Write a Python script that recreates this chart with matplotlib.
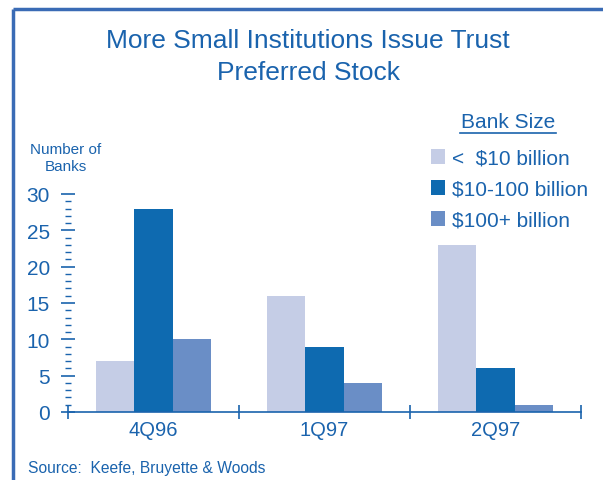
import matplotlib.pyplot as plt
import numpy as np
from matplotlib.lines import Line2D

quarters = ['4Q96', '1Q97', '2Q97']
small = [7, 16, 23]
mid = [28, 9, 6]
large = [10, 4, 1]
series_labels = ['<  $10 billion', '$10-100 billion', '$100+ billion']
colors = ['#c5cde6', '#0e6ab0', '#6a8ec6']
txt = '#1a63ad'

plt.rcParams['font.family'] = ['Liberation Sans', 'DejaVu Sans']

fig = plt.figure(figsize=(6.03, 4.81), dpi=100)
ax = fig.add_axes([0.1128, 0.1414, 0.8507, 0.4532])

x = np.arange(len(quarters))
w = 0.225
for i, (vals, lab) in enumerate(zip([small, mid, large], series_labels)):
    ax.bar(x + (i - 1) * w, vals, w, color=colors[i], label=lab, zorder=2)

ax.set_xlim(-0.5, 2.5)
ax.set_ylim(0, 30)
for s in ['top', 'right', 'left']:
    ax.spines[s].set_visible(False)
ax.spines['bottom'].set_color(txt)
ax.spines['bottom'].set_linewidth(1.2)
ax.spines['bottom'].set_zorder(3)

# category boundaries get the ticks, labels sit at the centres
ax.set_xticks([-0.5, 0.5, 1.5, 2.5])
ax.set_xticklabels([])
ax.set_xticks(x, minor=True)
ax.set_xticklabels(quarters, minor=True, fontsize=14.5, color=txt)
ax.tick_params(axis='x', which='major', direction='inout', length=10, width=1.2, color=txt)
ax.tick_params(axis='x', which='minor', length=0, pad=6)

ax.set_yticks(np.arange(0, 31, 5))
ax.set_yticks(np.arange(0, 31, 1), minor=True)
ax.tick_params(axis='y', which='major', direction='inout', length=10, width=1.2,
               color=txt, labelcolor=txt, labelsize=15, pad=8)
ax.tick_params(axis='y', which='minor', direction='inout', length=4, width=1.0, color=txt)

fig.text(0.1095, 0.6705, 'Number of\nBanks', ha='center', va='center', fontsize=11,
         color=txt, linespacing=1.25)

fig.text(0.511, 0.8815, 'More Small Institutions Issue Trust\nPreferred Stock',
         ha='center', va='center', fontsize=19, color=txt, linespacing=1.4)

fig.text(0.843, 0.746, 'Bank Size', ha='center', va='center', fontsize=15, color=txt)
fig.add_artist(Line2D([0.763, 0.922], [0.722, 0.722], color=txt, lw=1.2,
                      transform=fig.transFigure))

leg = ax.legend(loc='upper left', bbox_to_anchor=(0.697, 0.710),
                bbox_transform=fig.transFigure, frameon=False, fontsize=15,
                handlelength=0.7, handleheight=0.7, handletextpad=0.3,
                labelspacing=0.57, borderpad=0)
for t in leg.get_texts():
    t.set_color(txt)

fig.text(0.046, 0.027, 'Source:  Keefe, Bruyette & Woods', fontsize=11.25,
         color=txt, va='center')

fig.add_artist(Line2D([0.021, 0.021], [0.0, 0.979], color='#3a6bb5', lw=2.5,
                      transform=fig.transFigure, solid_capstyle='butt'))
fig.add_artist(Line2D([0.021, 1.0], [0.979, 0.979], color='#3a6bb5', lw=2.5,
                      transform=fig.transFigure, solid_capstyle='butt'))

fig.savefig('out.png', dpi=100)
